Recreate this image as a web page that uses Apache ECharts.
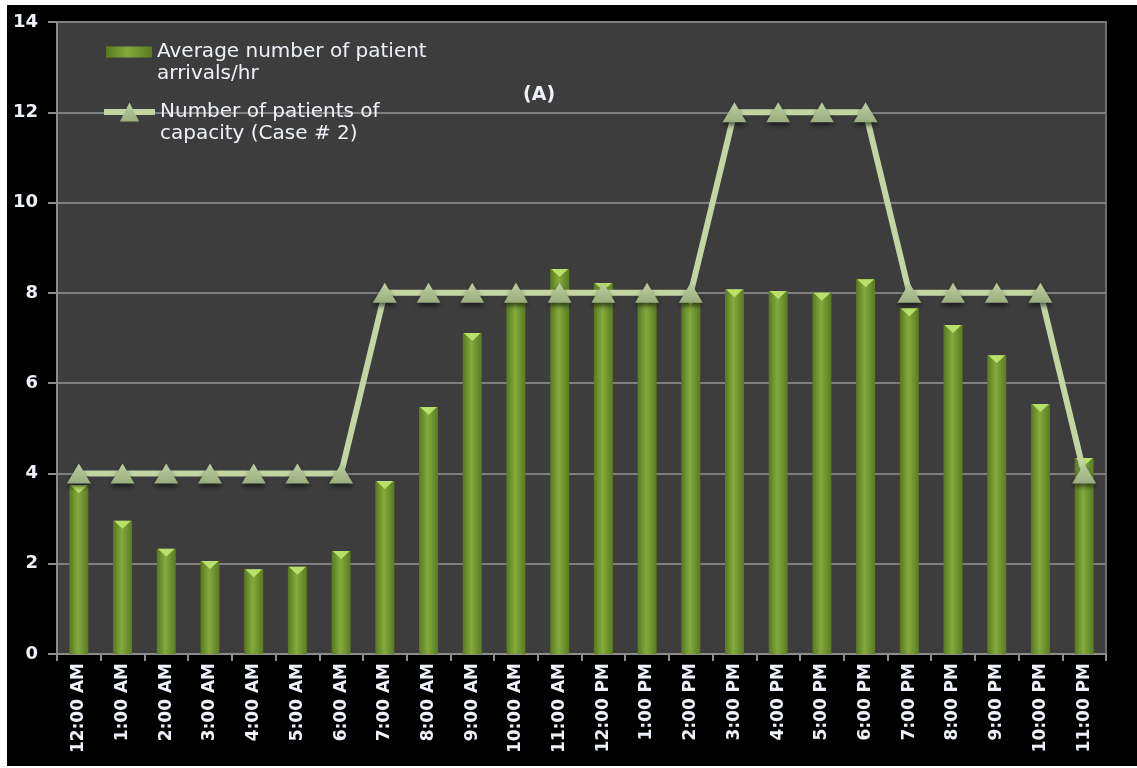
<!DOCTYPE html>
<html>
<head>
<meta charset="utf-8">
<script src="https://cdn.jsdelivr.net/npm/echarts@6/dist/echarts.min.js"></script>
<style>
html,body{margin:0;padding:0;background:#fff;}
#chart{position:absolute;left:0;top:0;width:1137px;height:768px;}
</style>
</head>
<body>
<div id="chart"></div>
<script>
const categories = ['12:00 AM','1:00 AM','2:00 AM','3:00 AM','4:00 AM','5:00 AM','6:00 AM','7:00 AM','8:00 AM','9:00 AM','10:00 AM','11:00 AM','12:00 PM','1:00 PM','2:00 PM','3:00 PM','4:00 PM','5:00 PM','6:00 PM','7:00 PM','8:00 PM','9:00 PM','10:00 PM','11:00 PM'];
const arrivals = [3.74,2.95,2.33,2.06,1.88,1.93,2.28,3.83,5.47,7.11,7.95,8.53,8.22,7.95,7.9,8.08,8.04,8.0,8.3,7.66,7.29,6.62,5.54,4.34];
const capacity = [4,4,4,4,4,4,4,8,8,8,8,8,8,8,8,12,12,12,12,8,8,8,8,4];
const seriesNames = ['Average number of patient\narrivals/hr','Number of patients of\ncapacity (Case # 2)'];
const titleText = '(A)';

const chart = echarts.init(document.getElementById('chart'));
const font = 'DejaVu Sans';
const legendText = {color:'#eef2f8', fontFamily: font, fontSize: 20, lineHeight: 22};
chart.setOption({
  backgroundColor: '#000',
  animation: false,
  graphic: [
    {type:'rect', left:0, top:0, shape:{width:7, height:768}, style:{fill:'#fff'}, silent:true},
    {type:'rect', left:0, top:0, shape:{width:1137, height:5}, style:{fill:'#fff'}, silent:true},
    {type:'rect', left:0, top:766, shape:{width:1137, height:2}, style:{fill:'#fff'}, silent:true}
  ],
  title: {
    text: titleText, left: 523, top: 86, padding: 0,
    textStyle: {color:'#eef2f8', fontFamily: font, fontSize: 19, fontWeight:'bold'}
  },
  legend: [
    {
      orient: 'vertical', left: 106, top: 19, padding: 0,
      itemWidth: 46, itemHeight: 11,
      formatter: n => '\n' + n,
      textStyle: legendText,
      data: [{name: seriesNames[0], icon: 'rect'}]
    },
    {
      orient: 'vertical', left: 101, top: 79, padding: 0,
      itemWidth: 51, itemHeight: 24,
      formatter: n => '\n' + n,
      textStyle: legendText,
      lineStyle: {width: 6, color: '#c3d6a2'},
      data: [{name: seriesNames[1]}]
    }
  ],
  grid: {
    left: 57, top: 22, width: 1049, height: 632, show: true,
    backgroundColor: '#3d3d3d', borderColor: '#6e6e6e', borderWidth: 2
  },
  xAxis: {
    type: 'category', data: categories, boundaryGap: true,
    axisLine: {lineStyle:{color:'#8c8c8c', width:2}},
    axisTick: {show:true, length:7, lineStyle:{color:'#8c8c8c', width:2}},
    axisLabel: {rotate: 90, margin: 9, color:'#eef2f8', fontFamily: font, fontSize: 17, fontWeight:'bold', interval: 0}
  },
  yAxis: {
    type: 'value', min: 0, max: 14, interval: 2,
    axisLine: {show:true, lineStyle:{color:'#8c8c8c', width:2}},
    axisTick: {show:true, length:9, lineStyle:{color:'#8c8c8c', width:2}},
    splitLine: {lineStyle:{color:'#7f7f7f', width:2}},
    axisLabel: {margin: 19, color:'#eef2f8', fontFamily: font, fontSize: 18, fontWeight:'bold'}
  },
  series: [
    {
      name: seriesNames[0], type: 'bar', data: arrivals, barWidth: 19, z: 2,
      itemStyle: {
        color: new echarts.graphic.LinearGradient(0,0,1,0,[
          {offset:0, color:'#587820'},
          {offset:0.45, color:'#84ab3c'},
          {offset:1, color:'#5a7a22'}
        ])
      }
    },
    {
      type: 'pictorialBar', data: arrivals, z: 3, silent: true,
      symbol: 'path://M0,0 L10,0 L5,5 Z', symbolSize: [17, 8],
      symbolPosition: 'end', symbolOffset: [0, 0],
      itemStyle: {color: '#b8e06a'}
    },
    {
      name: seriesNames[1], type: 'line', data: capacity, z: 4,
      symbol: 'triangle', symbolSize: [24, 20],
      lineStyle: {color:'#c3d6a2', width: 6},
      itemStyle: {
        color: new echarts.graphic.LinearGradient(0,0,0,1,[
          {offset:0, color:'#bccfa0'},
          {offset:1, color:'#9aad7e'}
        ]),
        shadowColor: 'rgba(0,0,0,0.6)', shadowBlur: 5, shadowOffsetY: 3
      }
    }
  ]
});
</script>
</body>
</html>
